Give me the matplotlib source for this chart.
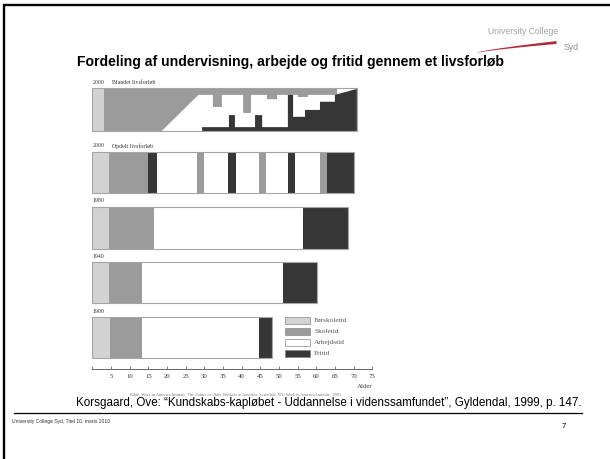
import numpy as np
import matplotlib.pyplot as plt
from matplotlib.patches import Rectangle, Polygon

W, H = 610, 459

# kategorier og farver (signaturforklaring)
kategorier = ['Førskoletid', 'Skoletid', 'Arbejdstid', 'Fritid']
farver = ['#d2d2d2', '#9b9b9b', '#ffffff', '#363636']

# aldersakse
alder_ticks = list(range(0, 80, 5))
alder_labels = [''] + [str(a) for a in alder_ticks[1:]]

# 2000 - opdelt livsforløb: grænser (alder) og kategori for hvert stykke
opdelt_graenser = [0, 4.5, 14.9, 17.3, 28.0, 29.9, 36.4, 38.5, 44.7, 46.5, 52.5, 54.4, 61.0, 62.9, 70.1]
opdelt_typer = [0, 1, 3, 2, 1, 2, 3, 2, 1, 2, 3, 2, 1, 3]

# 1980, 1940, 1900: førskole | skole | arbejde | fritid
graenser_1980 = [0, 4.5, 16.5, 56.4, 68.6]
graenser_1940 = [0, 4.5, 13.2, 51.0, 60.3]
graenser_1900 = [0, 4.7, 13.4, 44.7, 48.1]

# 2000 - blandet livsforløb (andel af søjlens højde)
blandet_slut = 70.9
blandet_forskole = 3.1
skole_diag_start = 18.6
skole_band_start = 28.4
skole_band_slut = 65.6
skole_band = 0.84
hak_fra = [32.3, 40.4, 46.8, 55.1]
hak_til = [34.7, 42.5, 49.5, 57.8]
hak_bund = [0.56, 0.42, 0.74, 0.79]
fritid_kanter = [29.4, 36.6, 38.2, 43.6, 45.5, 52.4, 53.8, 57.0, 61.0, 65.0]
fritid_niveau = [0.09, 0.37, 0.09, 0.37, 0.09, 0.84, 0.33, 0.49, 0.68]
fritid_hale = [0.84, 0.98]

serif = ['Liberation Serif', 'DejaVu Serif']
sans = ['Liberation Sans', 'DejaVu Sans']

fig = plt.figure(figsize=(W / 100, H / 100), dpi=100)
fig.patch.set_facecolor('white')

# overlay i pixelkoordinater til slidets pynt
ax0 = fig.add_axes([0, 0, 1, 1])
ax0.set_xlim(0, W)
ax0.set_ylim(H, 0)
ax0.axis('off')

ax0.plot([3, W], [4.5, 4.5], color='black', lw=1.7, solid_capstyle='butt')
ax0.plot([3.5, 3.5], [4, H], color='black', lw=1.7, solid_capstyle='butt')
ax0.plot([14, 582], [413, 413], color='black', lw=0.9)

ax0.text(77, 62, 'Fordeling af undervisning, arbejde og fritid gennem et livsforløb',
         fontsize=10.1, fontweight='bold', family=sans, va='center', ha='left')
ax0.text(329, 403, 'Korsgaard, Ove: “Kundskabs-kapløbet - Uddannelse i videnssamfundet”, Gyldendal, 1999, p. 147.',
         fontsize=8.4, family=sans, va='center', ha='center')
ax0.text(12, 422, 'University College Syd, Titel 10. marts 2010',
         fontsize=3.6, family=sans, va='center', ha='left', color='#333333')
ax0.text(564, 426, '7', fontsize=5.8, family=sans, va='center', ha='center')

# logo
ax0.text(558, 31, 'University College', fontsize=6.2, family=sans, color='#a3a3a3',
         va='center', ha='right')
ax0.text(564, 47, 'Syd', fontsize=6.3, family=sans, color='#8f8f8f', va='center', ha='left')
t = np.linspace(0, 1, 60)
sx = 478 + 78 * t
sy = 52 - 10 * t ** 0.8
th = 0.5 + 2.4 * t
ax0.fill_between(sx, sy - th / 2, sy + th / 2, color='#b02a3a', lw=0)

# diagrammet
ax = fig.add_axes([92.4 / W, 1 - 369.3 / H, 279.8 / W, (369.3 - 78) / H])
ax.set_xlim(0, 75)
ax.set_ylim(369.3, 78)
for s in ['left', 'right', 'top']:
    ax.spines[s].set_visible(False)
ax.spines['bottom'].set_color('#666666')
ax.spines['bottom'].set_linewidth(0.7)
ax.set_yticks([])
ax.set_xticks(alder_ticks)
ax.set_xticklabels(alder_labels, family=serif, fontsize=4.9, color='#333333')
ax.tick_params(axis='x', direction='in', length=2.5, width=0.6, color='#666666', pad=3.5)

row_top = [88, 152, 206.7, 261.7, 317.3]
row_bot = [131, 193, 249, 303.3, 358.3]
label_y = [83, 146, 201, 256.7, 311.7]
kant = '#a5a5a5'


def fy(i, f):
    return row_bot[i] - f * (row_bot[i] - row_top[i])


# række 1: blandet livsforløb
ax.add_patch(Rectangle((0, row_top[0]), blandet_slut, row_bot[0] - row_top[0],
                       facecolor=farver[2], lw=0))
ax.add_patch(Rectangle((0, row_top[0]), blandet_forskole, row_bot[0] - row_top[0],
                       facecolor=farver[0], lw=0))
skole = [(blandet_forskole, 1), (blandet_forskole, 0), (skole_diag_start, 0),
         (skole_band_start, skole_band)]
for a, b, d in zip(hak_fra, hak_til, hak_bund):
    skole += [(a, skole_band), (a, d), (b, d), (b, skole_band)]
skole += [(skole_band_slut, skole_band), (skole_band_slut, 1)]
ax.add_patch(Polygon([(x, fy(0, f)) for x, f in skole], closed=True,
                     facecolor=farver[1], lw=0))
fritid = [(fritid_kanter[0], 0)]
for k in range(len(fritid_niveau)):
    fritid += [(fritid_kanter[k], fritid_niveau[k]), (fritid_kanter[k + 1], fritid_niveau[k])]
fritid += [(fritid_kanter[-1], fritid_hale[0]), (blandet_slut, fritid_hale[1]), (blandet_slut, 0)]
ax.add_patch(Polygon([(x, fy(0, f)) for x, f in fritid], closed=True,
                     facecolor=farver[3], lw=0))
ax.add_patch(Rectangle((0, row_top[0]), blandet_slut, row_bot[0] - row_top[0],
                       fill=False, edgecolor=kant, lw=0.8))

# række 2-5
alle = [(opdelt_graenser, opdelt_typer),
        (graenser_1980, [0, 1, 2, 3]),
        (graenser_1940, [0, 1, 2, 3]),
        (graenser_1900, [0, 1, 2, 3])]
for i, (gr, ty) in enumerate(alle, start=1):
    hgt = row_bot[i] - row_top[i]
    ax.barh(row_top[i], np.diff(gr), left=gr[:-1], height=hgt, align='edge',
            color=[farver[k] for k in ty], lw=0)
    ax.add_patch(Rectangle((0, row_top[i]), gr[-1], hgt, fill=False, edgecolor=kant, lw=0.8))

# rækketekster
ax.text(0, label_y[0], '2000', family=serif, fontsize=4.2, color='#333333', va='center')
ax.text(5.3, label_y[0], 'Blandet livsforløb', family=serif, fontsize=4.2, color='#333333', va='center')
ax.text(0, label_y[1], '2000', family=serif, fontsize=4.2, color='#333333', va='center')
ax.text(5.3, label_y[1], 'Opdelt livsforløb', family=serif, fontsize=4.2, color='#333333', va='center')
for i, aar in zip([2, 3, 4], ['1980', '1940', '1900']):
    ax.text(0, label_y[i], aar, family=serif, fontsize=4.2, color='#333333', va='center')

# signaturforklaring
leg_top = [317.5, 328.5, 339.5, 350.3]
for k, navn in enumerate(kategorier):
    ax.add_patch(Rectangle((51.6, leg_top[k]), 6.7, 7, facecolor=farver[k],
                           edgecolor='#888888', lw=0.5))
    ax.text(59.4, leg_top[k] + 3.5, navn, family=serif, fontsize=5.2, color='#555555', va='center')

ax.text(75, 386.5, 'Alder', family=serif, fontsize=5, color='#444444', va='center', ha='right',
        clip_on=False)
ax.text(10, 395, 'Kilde: Work in America Institute, The Future of Older Workers in America: '
        'Scarsdale, NY: Work in America Institute, 1980.',
        family=serif, fontsize=3.1, color='#777777', va='center', ha='left', clip_on=False)

fig.savefig('out.png', dpi=100)
